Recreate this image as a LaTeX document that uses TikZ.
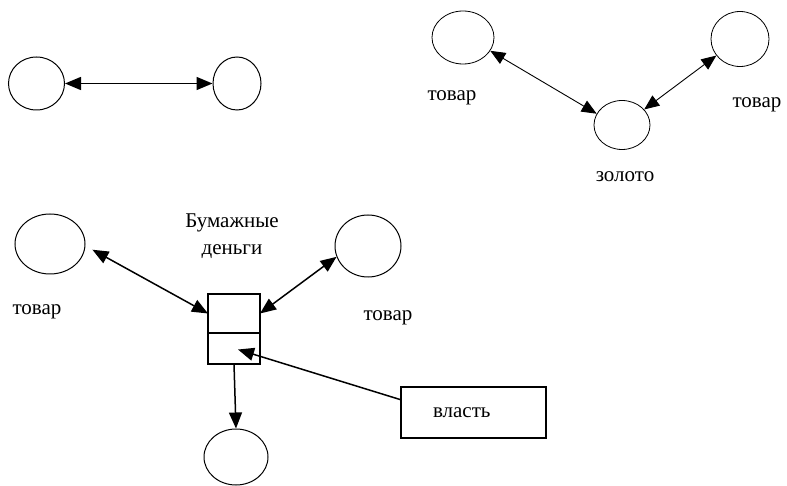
\documentclass[tikz,border=0pt]{standalone}
\usepackage{fontspec}
\setmainfont{Liberation Serif}
\usetikzlibrary{shapes.geometric,arrows.meta,calc}
\tikzset{
  circ/.style={draw, ellipse, inner sep=0pt, line width=1pt},
  thinc/.style={draw, ellipse, inner sep=0pt, line width=0.8pt},
  lbl/.style={inner sep=0pt, anchor=base, font=\fontsize{21}{27}\selectfont},
  bigarr/.style={line width=1.5pt, -{Triangle[length=16pt,width=13pt]}},
  bigarr2/.style={line width=1.5pt, {Triangle[length=16pt,width=13pt]}-{Triangle[length=16pt,width=13pt]}},
  smallarr2/.style={line width=0.9pt, {Triangle[length=15pt,width=12.5pt]}-{Triangle[length=15pt,width=12.5pt]}},
  part/.style={draw, line width=1.4pt, minimum width=52pt, inner sep=0pt, outer sep=0pt},
}
\begin{document}
\begin{tikzpicture}[x=1pt,y=-1pt]
\useasboundingbox (0,0) rectangle (787,486);
% top-left
\node[circ, minimum width=56pt, minimum height=53pt] (L1) at (36.5,83.5) {};
\node[circ, minimum width=48pt, minimum height=53pt] (L2) at (237,83.5) {};
\draw[bigarr2] (L1) -- (L2);
% top-right
\node[thinc, minimum width=62pt, minimum height=53pt] (A) at (463,37.5) {};
\node[thinc, minimum width=58pt, minimum height=55pt] (B) at (740,39) {};
\node[thinc, minimum width=56pt, minimum height=49pt] (C) at (622,125) {};
\draw[smallarr2] (A.-26) -- (C.156);
\draw[smallarr2] (B.215) -- (C.35);
\node[lbl] (tA) at (452,101) {товар};
\node[lbl] (tB) at (757,108) {товар};
\node[lbl] (tC) at (625,182) {золото};
% bottom
\node[circ, minimum width=70pt, minimum height=60pt] (D) at (50,244) {};
\node[circ, minimum width=66pt, minimum height=62pt] (E) at (368,246) {};
\node[circ, minimum width=64pt, minimum height=56pt] (F) at (236,457) {};
\node[part, minimum height=39pt] (ptop) at (234,313.5) {};
\node[part, minimum height=31pt] (pbot) at (234,348.5) {};
\node[draw, line width=1.4pt, minimum width=145pt, minimum height=51pt, inner xsep=32pt, text width=81pt, align=left,
      font=\fontsize{21}{27}\selectfont] (power) at (473.5,412.5) {власть};
\node[lbl] (tD) at (37,315) {товар};
\node[lbl] (tE) at (388,320) {товар};
\node[lbl, align=center] (money) at (232,255) {Бумажные\\деньги};
\draw[bigarr2, shorten <=8pt] (D.-3) -- (ptop.west);
\draw[bigarr2] (ptop.east) -- (E.199);
\draw[bigarr] (pbot.south) -- (F.north);
\draw[bigarr] (power.170) -- ($(pbot.center)+(4,1)$);
\end{tikzpicture}
\end{document}
